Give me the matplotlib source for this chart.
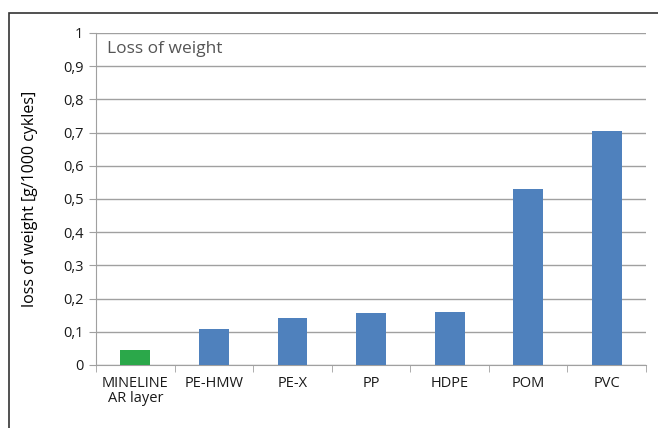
import matplotlib
matplotlib.use("Agg")
import matplotlib.pyplot as plt
from matplotlib.patches import Rectangle

categories = ["MINELINE\nAR layer", "PE-HMW", "PE-X", "PP", "HDPE", "POM", "PVC"]
values = [0.045, 0.108, 0.141, 0.157, 0.160, 0.531, 0.705]
colors = ["#2BA84A", "#4F81BD", "#4F81BD", "#4F81BD", "#4F81BD", "#4F81BD", "#4F81BD"]
yticks = [0, 0.1, 0.2, 0.3, 0.4, 0.5, 0.6, 0.7, 0.8, 0.9, 1.0]
ylabels = ["0", "0,1", "0,2", "0,3", "0,4", "0,5", "0,6", "0,7", "0,8", "0,9", "1"]

plt.rcParams['font.family'] = ['Open Sans', 'DejaVu Sans']

W, H = 658, 428
fig = plt.figure(figsize=(W / 100, H / 100), dpi=100)
ax = fig.add_axes([96 / W, 1 - 365 / H, (646 - 96) / W, (365 - 33) / H])

x = list(range(len(categories)))
ax.bar(x, values, width=0.38, color=colors, zorder=3)
ax.set_xlim(-0.5, len(categories) - 0.5)
ax.set_ylim(0, 1)
ax.set_yticks(yticks)
ax.set_yticklabels(ylabels, fontsize=10.5, color="#1a1a1a")
ax.set_xticks(x)
ax.set_xticklabels(categories, fontsize=10.5, color="#1a1a1a", linespacing=0.95)
ax.set_xticks([i - 0.5 for i in range(len(categories) + 1)], minor=True)
ax.tick_params(axis='x', which='major', length=0, pad=8)
ax.tick_params(axis='x', which='minor', length=5, color="#a0a0a0", direction='out')
ax.tick_params(axis='y', length=5, color="#a0a0a0", pad=4)
ax.grid(axis='y', color="#a0a0a0", linewidth=1.0, zorder=0)
for s in ['top', 'right']:
    ax.spines[s].set_visible(False)
ax.spines['left'].set_color("#a0a0a0")
ax.spines['bottom'].set_color("#a0a0a0")
ax.set_ylabel("loss of weight [g/1000 cykles]", fontsize=11.5, color="#000000", labelpad=18)
ax.text(0.02, 0.975, "Loss of weight", transform=ax.transAxes, fontsize=12.5,
        color="#555555", va='top', ha='left')

# outer chart frame (cropped at right/bottom)
fig.patches.append(Rectangle((9 / W, -0.1), 1.2, 1 - 13 / H + 0.1, transform=fig.transFigure,
                             fill=False, edgecolor="#333333", linewidth=1.2))

fig.savefig("out.png", dpi=100)
